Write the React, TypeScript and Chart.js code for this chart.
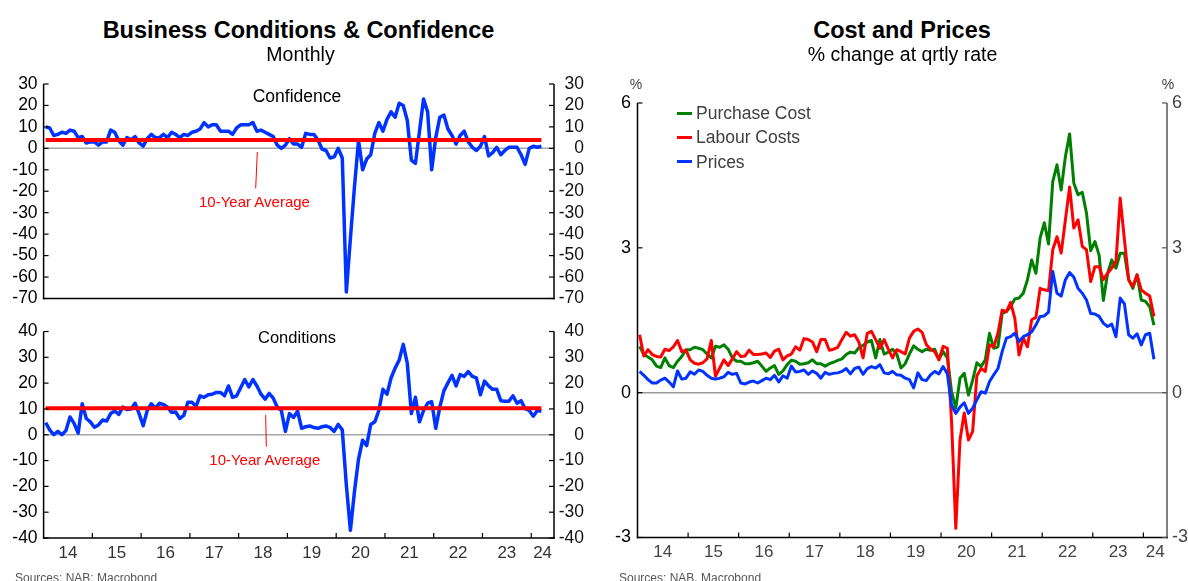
import React, { useEffect, useRef } from 'react';
import { Chart, registerables } from 'chart.js';

Chart.register(...registerables);

const FONT = "'Liberation Sans', Arial, Helvetica, sans-serif";

// ---------- categories (monthly, Jan 2014 .. Mar 2024) ----------
const FIRST_YEAR = 2014;
const yearLabels = ['14', '15', '16', '17', '18', '19', '20', '21', '22', '23', '24'];
const yearLabelMonths = [6, 18, 30, 42, 54, 66, 78, 90, 102, 114, 122.8];
const yearStartMonths = [12, 24, 36, 48, 60, 72, 84, 96, 108, 120];
const X_MAX = 125.6;

// ---------- Business confidence (net balance) ----------
const confidence = [
  10, 9.5, 6, 6.5, 7.5, 7, 8.5, 8, 5, 5.5, 2.5, 3,
  3, 1.5, 3, 3, 8.5, 7.5, 3.5, 1.5, 5, 4, 5.5, 2.5,
  1, 4.5, 6.5, 5, 5, 6.5, 5, 7.5, 6.5, 5, 6.5, 6,
  7.5, 8, 9, 12, 10, 11, 11, 8, 8, 8, 6.5, 9.5,
  11, 11, 11, 12, 8, 8.5, 7.5, 6.5, 5.5, 1.5, 0, 1.5,
  4.5, 2, 2, 0.5, 7, 6.5, 6.5, 4, -0.3, -1, -4.5, -4,
  0, -4.5, -67, -42, -18, 3.8, -10, -5, -3, 7, 12, 8,
  13.5, 17, 14.5, 21, 20, 13, -5.5, -7, 8, 23, 17, -10,
  5, 14.5, 15.5, 9, 6, 2, 6, 8, 3, 0.5, -1, 1,
  5.5, -3.5, -2, 0.5, -3, -1, 0.5, 0.5, 0.5, -3, -7.5, 0,
  1, 0.5, 1,
];
const confidenceAvg = 3.9;

// ---------- Business conditions (net balance) ----------
const conditions = [
  4.7, 1.9, 0, 1.3, 0, 1.6, 6.9, 4.4, 0.6, 12, 6.3, 5,
  2.9, 3.8, 5.7, 5.3, 8.2, 9.2, 7.9, 10.7, 9.8, 10, 12.2, 8.2,
  3.5, 9.4, 12, 10.3, 12.2, 11.7, 10.7, 8.7, 8.8, 6.3, 7.5, 12.6,
  12.6, 11, 15.1, 14.5, 15.5, 15.7, 16.4, 16.4, 15.1, 18.9, 14.5, 15.1,
  18.2, 21.4, 18.5, 21.4, 18.9, 15.7, 13.8, 16, 14.2, 10.7, 9.4, 1.3,
  8.2, 6.7, 9.1, 2.5, 3.1, 3.4, 2.8, 2.5, 3.1, 3.4, 2.8, 1.3,
  4.0, 1.9, -19.5, -37, -22, -9.4, -2.1, -4.2, 4.0, 5.0, 9.4, 17.6,
  15.7, 22, 25.8, 28.9, 35, 27.7, 8.2, 14.5, 5.0, 9.4, 12.2, 12.8,
  2.5, 10.7, 17, 20.1, 23, 18.9, 23.3, 22.6, 24.5, 22.6, 22, 15.5,
  20.8, 18.9, 17.6, 17.6, 13.2, 13, 13, 15.1, 12.2, 13.2, 10.1, 9.4,
  7.2, 9.4, 9.1,
];
const conditionsAvg = 10.3;

// ---------- Cost and prices (% change at quarterly rate) ----------
const seriesNames = ['Purchase Cost', 'Labour Costs', 'Prices'];
const seriesColors = ['#008000', '#ff0000', '#0033ff'];

const purchaseCost = [
  0.96, 0.79, 0.74, 0.68, 0.55, 0.52, 0.72, 0.56, 0.52, 0.65, 0.75, 0.89,
  0.89, 0.94, 0.92, 0.89, 0.8, 0.72, 0.96, 0.94, 0.99, 0.9, 0.72, 0.65,
  0.65, 0.6, 0.6, 0.62, 0.65, 0.55, 0.44, 0.51, 0.56, 0.38, 0.45, 0.58,
  0.67, 0.65, 0.59, 0.6, 0.62, 0.68, 0.6, 0.6, 0.55, 0.6, 0.63, 0.67,
  0.7, 0.79, 0.84, 0.82, 0.93, 0.98, 1.05, 1.08, 0.72, 1.1, 0.8, 0.84,
  0.9, 0.8, 0.51, 0.6, 0.8, 0.97, 0.9, 0.85, 0.9, 0.88, 0.9, 0.69,
  0.85, 0.72, 0.02, -0.32, 0.3, 0.4, -0.05, 0.26, 0.62, 0.54, 0.68, 1.23,
  0.92, 0.95, 1.64, 1.68, 1.78, 1.94, 1.96, 2.06, 2.34, 2.75, 2.47, 3.2,
  3.52, 3.08, 4.37, 4.72, 4.2, 4.89, 5.36, 4.34, 4.1, 4.15, 3.72, 2.94,
  3.13, 2.85, 1.91, 2.47, 2.75, 2.58, 2.89, 2.89, 2.34, 2.16, 2.44, 1.92,
  1.89, 1.78, 1.4,
];
const labourCosts = [
  1.2, 0.76, 0.89, 0.79, 0.75, 0.74, 0.9, 0.87, 0.95, 1.08, 0.85, 0.88,
  0.68, 0.61, 0.59, 0.62, 0.7, 1.08, 0.34, 0.51, 0.68, 0.56, 0.7, 0.85,
  0.75, 0.76, 0.88, 0.79, 0.79, 0.8, 0.82, 0.73, 0.86, 0.9, 0.68, 0.76,
  0.8, 0.95, 0.88, 1.12, 1.1, 1.05, 0.85, 1.1, 1.1, 0.88, 0.9, 0.94,
  1.1, 1.25, 1.17, 1.2, 1.05, 0.72, 1.23, 1.27, 1.1, 0.92, 1.1, 0.9,
  0.72, 0.89, 0.85, 0.8, 1.13, 1.27, 1.32, 1.25, 1.0, 0.9, 0.85, 0.68,
  0.96, 0.92, -0.6, -2.81, -0.98, -0.42, -0.98, -0.8, 0.35, 0.5, 0.44, 0.99,
  0.95, 1.23, 1.71, 1.68, 1.87, 1.54, 0.78, 1.13, 0.95, 1.51, 1.56, 2.16,
  2.13, 2.11, 2.96, 3.23, 2.89, 3.58, 4.26, 3.41, 3.58, 3.03, 2.96, 2.3,
  2.61, 2.61, 2.34, 2.47, 2.58, 2.72, 4.03, 3.17, 2.34, 2.2, 2.44, 2.13,
  2.06, 2.0, 1.58,
];
const prices = [
  0.44, 0.36, 0.27, 0.2, 0.2, 0.26, 0.3, 0.22, 0.12, 0.45, 0.28, 0.3,
  0.43, 0.38, 0.47, 0.44, 0.36, 0.3, 0.28, 0.3, 0.33, 0.42, 0.38, 0.4,
  0.2, 0.18, 0.22, 0.24, 0.2, 0.25, 0.3, 0.27, 0.36, 0.22, 0.35, 0.3,
  0.55, 0.43, 0.44, 0.47, 0.38, 0.45, 0.4, 0.3, 0.42, 0.38, 0.4, 0.41,
  0.44, 0.5, 0.39, 0.5, 0.53, 0.38, 0.5, 0.54, 0.51, 0.58, 0.41, 0.39,
  0.44, 0.37, 0.36, 0.3, 0.27, 0.1, 0.41, 0.27, 0.25, 0.37, 0.44, 0.39,
  0.54, 0.39, -0.26, -0.43, -0.3, -0.21, -0.43, -0.32, -0.15, 0.02, -0.01, 0.23,
  0.37, 0.5, 0.85, 1.13, 1.16, 1.23, 1.06, 1.16, 1.2, 1.26, 1.4, 1.58,
  1.59, 1.67, 2.51, 2.06, 2.0, 2.34, 2.49, 2.39, 2.16, 2.06, 1.92, 1.64,
  1.63, 1.58, 1.44, 1.37, 1.42, 1.16, 1.96, 1.84, 1.2, 1.13, 1.22, 0.99,
  1.2, 1.23, 0.69,
];

const months: string[] = confidence.map(
  (_, i) => `${FIRST_YEAR + Math.floor(i / 12)}-${String((i % 12) + 1).padStart(2, '0')}`
);

// points plotted mid-month on a linear month axis
const toXY = (arr: number[]) => arr.map((v, i) => ({ x: i + 0.5, y: v, m: months[i] }));

// ---------- plugin: axes frame, inward ticks, zero line ----------
const framePlugin = {
  id: 'frame',
  beforeDatasetsDraw(chart: any, _a: any, o: any) {
    const { ctx, chartArea: a } = chart;
    const z = chart.scales.y.getPixelForValue(0);
    ctx.save();
    ctx.strokeStyle = o.zeroColor;
    ctx.lineWidth = 1.5;
    ctx.beginPath();
    ctx.moveTo(a.left, z);
    ctx.lineTo(a.right, z);
    ctx.stroke();
    ctx.restore();
  },
  afterDatasetsDraw(chart: any, _a: any, o: any) {
    const { ctx, chartArea: a } = chart;
    const y = chart.scales.y;
    const x = chart.scales.x;
    ctx.save();
    ctx.lineCap = 'butt';
    const seg = (c: string, w: number, x1: number, y1: number, x2: number, y2: number) => {
      ctx.strokeStyle = c;
      ctx.lineWidth = w;
      ctx.beginPath();
      ctx.moveTo(x1, y1);
      ctx.lineTo(x2, y2);
      ctx.stroke();
    };
    seg(o.leftColor, 1.5, a.left, a.top, a.left, a.bottom + 0.75);
    seg(o.rightColor, 1.5, a.right, a.top, a.right, a.bottom + 0.75);
    seg(o.bottomColor, 1.5, a.left - 0.75, a.bottom, a.right + 0.75, a.bottom);
    y.ticks.forEach((t: any) => {
      const py = y.getPixelForValue(t.value);
      seg(o.leftColor, 1.2, a.left, py, a.left + 5, py);
      seg(o.rightColor, 1.2, a.right - 5, py, a.right, py);
    });
    if (o.xTicks) {
      yearStartMonths.forEach((v) => {
        const px = x.getPixelForValue(v);
        seg(o.bottomColor, 1.2, px, a.bottom, px, a.bottom - 5);
      });
    }
    if (o.connector) {
      const [x1, y1, x2, y2] = o.connector;
      seg('#ff0000', 1, x1, y1, x2, y2);
    }
    ctx.restore();
  },
};

function xScale(showLabels: boolean, height: number, color: string) {
  return {
    type: 'linear',
    min: 0,
    max: X_MAX,
    grid: { display: false, drawTicks: false },
    border: { display: false },
    afterBuildTicks: (s: any) => {
      s.ticks = yearLabelMonths.map((v) => ({ value: v }));
    },
    afterFit: (s: any) => {
      s.height = height;
    },
    ticks: {
      display: showLabels,
      autoSkip: false,
      maxRotation: 0,
      minRotation: 0,
      padding: 5,
      color,
      font: { size: 17, family: FONT },
      callback: (_v: any, i: number) => yearLabels[i],
    },
  };
}

function yScale(pos: 'left' | 'right', min: number, max: number, step: number, width: number,
  align: string, pad: number, color: string, size: number) {
  return {
    type: 'linear',
    position: pos,
    min,
    max,
    grid: { display: false, drawTicks: false },
    border: { display: false },
    afterFit: (s: any) => {
      s.width = width;
    },
    ticks: {
      stepSize: step,
      autoSkip: false,
      padding: pad,
      crossAlign: align,
      color,
      font: { size, family: FONT },
    },
  };
}

function businessConfig(values: number[], avg: number, label: string, yMin: number, yMax: number,
  padTop: number, xHeight: number, showX: boolean, connector: number[]) {
  return {
    type: 'line',
    data: {
      datasets: [
        {
          label: '10-Year Average',
          data: [{ x: 0.5, y: avg }, { x: values.length - 0.5, y: avg }],
          borderColor: '#ff0000',
          borderWidth: 4,
          pointRadius: 0,
          tension: 0,
        },
        {
          label,
          data: toXY(values),
          borderColor: '#0033ff',
          borderWidth: 3.5,
          pointRadius: 0,
          tension: 0,
          borderJoinStyle: 'round',
        },
      ],
    },
    options: {
      responsive: false,
      animation: false,
      devicePixelRatio: 1,
      layout: { padding: { top: padTop, right: 16, left: 0, bottom: 0 } },
      plugins: {
        legend: { display: false },
        tooltip: { enabled: false },
        frame: {
          leftColor: '#000', rightColor: '#000', bottomColor: '#000', zeroColor: '#a6a6a6',
          xTicks: showX, connector,
        },
      },
      scales: {
        x: xScale(showX, xHeight, '#333'),
        y: yScale('left', yMin, yMax, 10, 43.6, 'near', 6, '#000', 17.5),
        y2: yScale('right', yMin, yMax, 10, 30, 'far', 6, '#111', 17.5),
      },
    },
    plugins: [framePlugin],
  };
}

function costConfig() {
  const series = [purchaseCost, labourCosts, prices];
  return {
    type: 'line',
    data: {
      datasets: series.map((s, i) => ({
        label: seriesNames[i],
        data: toXY(s),
        borderColor: seriesColors[i],
        borderWidth: 3,
        pointRadius: 0,
        tension: 0,
        borderJoinStyle: 'round',
        order: 3 - i,
      })),
    },
    options: {
      responsive: false,
      animation: false,
      devicePixelRatio: 1,
      layout: { padding: { top: 43, right: 0, left: 0, bottom: 0 } },
      plugins: {
        legend: { display: false },
        tooltip: { enabled: false },
        frame: {
          leftColor: '#000', rightColor: '#555', bottomColor: '#000', zeroColor: '#9a9a9a',
          xTicks: true, connector: null,
        },
      },
      scales: {
        x: xScale(true, 43.5, '#444'),
        y: yScale('left', -3, 6, 3, 37.5, 'near', 6.5, '#000', 18),
        y2: yScale('right', -3, 6, 3, 21, 'near', 5, '#444', 18),
      },
    },
    plugins: [framePlugin],
  };
}

function ChartCanvas(props: { left: number; top: number; width: number; height: number; build: () => any }) {
  const ref = useRef<HTMLCanvasElement>(null);
  useEffect(() => {
    const chart = new Chart(ref.current as HTMLCanvasElement, props.build());
    return () => chart.destroy();
  }, []);
  return (
    <canvas
      ref={ref}
      width={props.width}
      height={props.height}
      style={{ position: 'absolute', left: props.left, top: props.top, width: props.width, height: props.height }}
    />
  );
}

function T(props: { x: number; y: number; size: number; children: any; center?: boolean; bold?: boolean; color?: string }) {
  const { x, y, size, center, bold, color } = props;
  return (
    <div
      style={{
        position: 'absolute',
        left: x,
        top: y - 0.8465 * size,
        fontSize: size,
        lineHeight: `${size}px`,
        fontWeight: bold ? 'bold' : 'normal',
        color: color || '#000',
        whiteSpace: 'nowrap',
        transform: center ? 'translateX(-50%)' : undefined,
      }}
    >
      {props.children}
    </div>
  );
}

export default function App() {
  return (
    <div
      style={{
        position: 'absolute',
        left: 0,
        top: 0,
        width: 1188,
        height: 581,
        overflow: 'hidden',
        background: '#fff',
        fontFamily: FONT,
      }}
    >
      <ChartCanvas left={0} top={60} width={600} height={255}
        build={() => businessConfig(confidence, confidenceAvg, 'Confidence', -70, 30, 24, 11, false, [257.3, 92, 255.7, 128.3])} />
      <ChartCanvas left={0} top={315} width={600} height={266}
        build={() => businessConfig(conditions, conditionsAvg, 'Conditions', -40, 40, 11, 43, true, [265.7, 100, 266.3, 131.7])} />
      <ChartCanvas left={600} top={60} width={588} height={521} build={costConfig} />

      <T x={298.5} y={39} size={23.5} bold center>Business Conditions &amp; Confidence</T>
      <T x={300.5} y={61.3} size={19.5} center>Monthly</T>
      <T x={902} y={39} size={23.5} bold center>Cost and Prices</T>
      <T x={902.5} y={61.3} size={19.5} center>% change at qrtly rate</T>

      <T x={297} y={102.7} size={17.5} center>Confidence</T>
      <T x={297} y={343.3} size={16.5} center>Conditions</T>
      <T x={199} y={206.7} size={15} color="#ff0000">10-Year Average</T>
      <T x={209.3} y={465} size={15} color="#ff0000">10-Year Average</T>

      <T x={636} y={89} size={14} center color="#404040">%</T>
      <T x={1168} y={89} size={14} center color="#404040">%</T>

      {seriesNames.map((name, i) => (
        <React.Fragment key={name}>
          <div
            style={{
              position: 'absolute',
              left: 677,
              top: 111.8 + i * 24.3,
              width: 15,
              height: 3,
              background: seriesColors[i],
            }}
          />
          <T x={696} y={120 + i * 24.2} size={17.5} color="#404040">{name}</T>
        </React.Fragment>
      ))}

      <T x={15} y={582} size={12} color="#555">Sources: NAB: Macrobond</T>
      <T x={619} y={582} size={12} color="#555">Sources: NAB, Macrobond</T>
    </div>
  );
}
